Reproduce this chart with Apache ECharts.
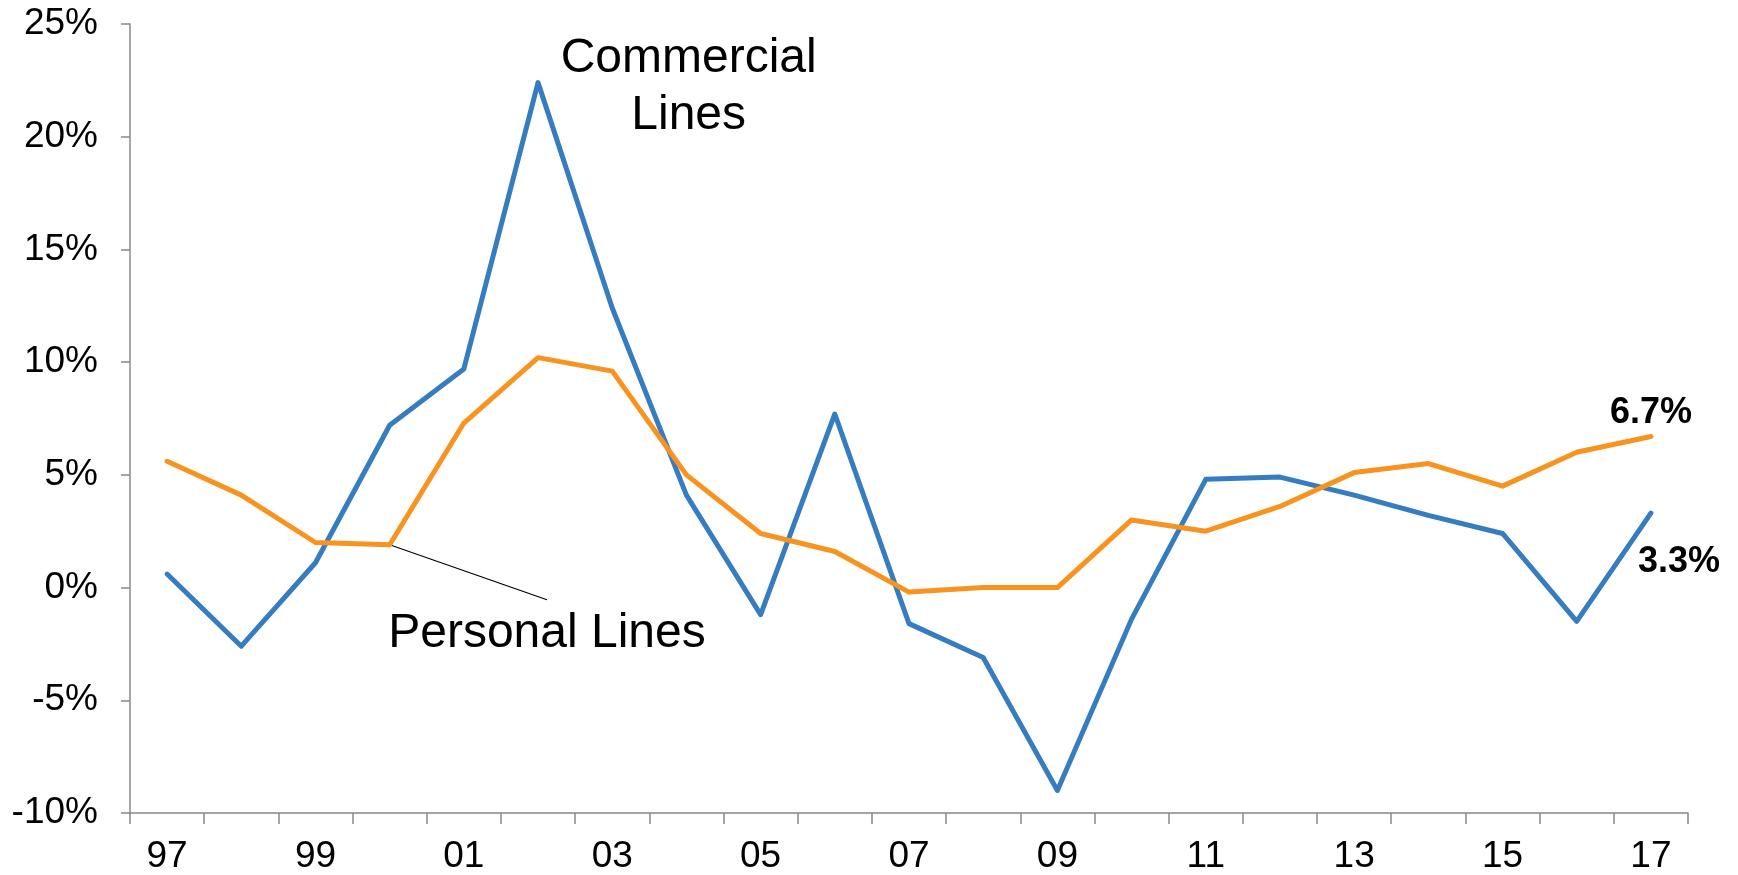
<!DOCTYPE html>
<html><head><meta charset="utf-8">
<script src="https://cdn.jsdelivr.net/npm/echarts@6/dist/echarts.min.js"></script>
<style>html,body{margin:0;padding:0;background:#fff}#c{width:1738px;height:875px}</style>
</head><body><div id="c"></div>
<script>
const years = ['97','98','99','00','01','02','03','04','05','06','07','08','09','10','11','12','13','14','15','16','17'];
const commercial = [0.6,-2.6,1.1,7.2,9.7,22.4,12.4,4.1,-1.2,7.7,-1.6,-3.1,-9.0,-1.4,4.8,4.9,4.1,3.2,2.4,-1.5,3.3];
const personal = [5.6,4.1,2.0,1.9,7.3,10.2,9.6,5.0,2.4,1.6,-0.2,0.0,0.0,3.0,2.5,3.6,5.1,5.5,4.5,6.0,6.7];
const yMin = -10, yMax = 25, yStep = 5;
// annotation anchors in data space: [category index, value]
const commercialNote = {text: 'Commercial\nLines', at: [7.03, 22.2]};
const personalNote = {text: 'Personal Lines', at: [5.12, -2.05]};
const leaderEnd = [5.12, -0.54];
const leaderStartIdx = 3;

const BLUE = '#357CC0', ORANGE = '#F7931E', AXIS = '#888888';
const FONT = '"Liberation Sans", Arial, sans-serif';

const chart = echarts.init(document.getElementById('c'));
chart.setOption({
  animation: false,
  backgroundColor: '#ffffff',
  grid: {left: 130, right: 50, top: 24, bottom: 60, containLabel: false},
  xAxis: {
    type: 'category', data: years, boundaryGap: true,
    axisLine: {onZero: false, lineStyle: {color: AXIS, width: 1.5}},
    axisTick: {show: true, interval: 0, length: 11, lineStyle: {color: AXIS, width: 1.5}},
    axisLabel: {interval: 1, color: '#000', fontSize: 37, fontFamily: FONT, margin: 25}
  },
  yAxis: {
    type: 'value', min: yMin, max: yMax, interval: yStep,
    axisLine: {show: true, lineStyle: {color: AXIS, width: 1.5}},
    axisTick: {show: true, length: 9, lineStyle: {color: AXIS, width: 1.5}},
    splitLine: {show: false},
    axisLabel: {color: '#000', fontSize: 37, fontFamily: FONT, margin: 32, formatter: v => v + '%'}
  },
  series: [
    {name: 'Commercial Lines', type: 'line', data: commercial, showSymbol: false,
     lineStyle: {color: BLUE, width: 5, cap: 'round', join: 'round'}, itemStyle: {color: BLUE}},
    {name: 'Personal Lines', type: 'line', data: personal, showSymbol: false,
     lineStyle: {color: ORANGE, width: 5, cap: 'round', join: 'round'}, itemStyle: {color: ORANGE}}
  ]
});

function px(xi, yv) {
  const i0 = Math.floor(xi), f = xi - i0;
  const p0 = chart.convertToPixel({gridIndex: 0}, [i0, yv]);
  const p1 = chart.convertToPixel({gridIndex: 0}, [Math.min(i0 + 1, years.length - 1), yv]);
  const step = (i0 + 1 < years.length) ? (p1[0] - p0[0]) : 0;
  return [p0[0] + step * f, p0[1]];
}

const last = years.length - 1;
const cNote = px(commercialNote.at[0], commercialNote.at[1]);
const pNote = px(personalNote.at[0], personalNote.at[1]);
const lStart = px(leaderStartIdx, personal[leaderStartIdx]);
const lEnd = px(leaderEnd[0], leaderEnd[1]);
const pLast = px(last, personal[last]);
const cLast = px(last, commercial[last]);

chart.setOption({
  graphic: [
    {type: 'text', x: cNote[0], y: cNote[1], style: {text: commercialNote.text, fill: '#000',
      font: '48px ' + FONT, align: 'center', verticalAlign: 'middle', lineHeight: 57}},
    {type: 'text', x: pNote[0], y: pNote[1], style: {text: personalNote.text, fill: '#000',
      font: '48px ' + FONT, align: 'center', verticalAlign: 'middle'}},
    {type: 'line', shape: {x1: lStart[0], y1: lStart[1], x2: lEnd[0], y2: lEnd[1]},
      style: {stroke: '#000', lineWidth: 1.2}},
    {type: 'text', x: pLast[0], y: pLast[1] - 23, style: {text: personal[last].toFixed(1) + '%', fill: '#000',
      font: 'bold 36px ' + FONT, align: 'center', verticalAlign: 'middle'}},
    {type: 'text', x: cLast[0] + 28, y: cLast[1] + 49, style: {text: commercial[last].toFixed(1) + '%', fill: '#000',
      font: 'bold 36px ' + FONT, align: 'center', verticalAlign: 'middle'}}
  ]
});
</script>
</body></html>
